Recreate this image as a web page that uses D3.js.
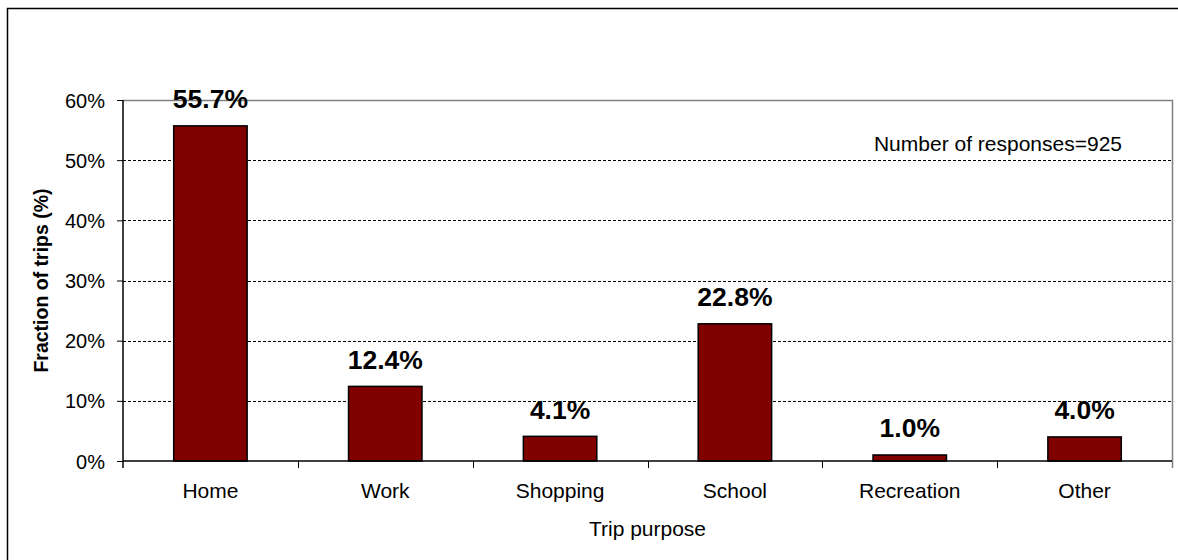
<!DOCTYPE html>
<html>
<head>
<meta charset="utf-8">
<script src="https://cdn.jsdelivr.net/npm/d3@7"></script>
<style>
  html, body { margin: 0; padding: 0; background: #fff; }
  svg { display: block; font-family: Arial, "Liberation Sans", sans-serif; }
</style>
</head>
<body>
<svg id="chart" width="1178" height="560"></svg>
<script>
// Trip purpose shares (percent of trips)
const categories = ["Home", "Work", "Shopping", "School", "Recreation", "Other"];
const shares = [55.7, 12.4, 4.1, 22.8, 1.0, 4.0];
const yTicks = [0, 10, 20, 30, 40, 50, 60];
const noteText = "Number of responses=925";

const svg = d3.select("#chart");
const W = 1178, H = 560;
const plot = { left: 123, right: 1172, top: 100, bottom: 461 };

// Outer frame (runs off the right and bottom edges)
svg.append("rect")
  .attr("x", 7.5).attr("y", 8.5)
  .attr("width", W + 10).attr("height", H + 10)
  .attr("fill", "#fff").attr("stroke", "#000").attr("stroke-width", 1.5);

const x = d3.scaleBand().domain(categories).range([plot.left, plot.right]).paddingInner(0).paddingOuter(0);
const y = d3.scaleLinear().domain([0, 60]).range([plot.bottom, plot.top]);

const barW = x.bandwidth() * 0.42;

// Dashed gridlines
svg.append("g").selectAll("line")
  .data(yTicks.filter(t => t > 0 && t < 60))
  .join("line")
  .attr("x1", plot.left).attr("x2", plot.right)
  .attr("y1", d => Math.round(y(d)) + 0.5).attr("y2", d => Math.round(y(d)) + 0.5)
  .attr("stroke", "#000").attr("stroke-width", 1)
  .attr("stroke-dasharray", "3,2");

// Top and right plot border (grey)
svg.append("path")
  .attr("d", `M${plot.left},${plot.top + 0.5}H${plot.right + 0.5}V${plot.bottom + 7}`)
  .attr("fill", "none").attr("stroke", "#808080").attr("stroke-width", 1.5);

// Bars
svg.append("g").selectAll("rect")
  .data(categories)
  .join("rect")
  .attr("x", d => x(d) + x.bandwidth() / 2 - barW / 2)
  .attr("y", (d, i) => y(shares[i]))
  .attr("width", barW)
  .attr("height", (d, i) => y(0) - y(shares[i]))
  .attr("fill", "#800000")
  .attr("stroke", "#000").attr("stroke-width", 1.5);

// Value labels
svg.append("g").selectAll("text")
  .data(categories)
  .join("text")
  .attr("x", d => x(d) + x.bandwidth() / 2)
  .attr("y", (d, i) => y(shares[i]) - 17.5)
  .attr("text-anchor", "middle")
  .attr("font-size", 26.5).attr("font-weight", "bold").attr("fill", "#000")
  .text((d, i) => shares[i].toFixed(1) + "%");

// Y axis
const yAxis = d3.axisLeft(y).tickValues(yTicks).tickSize(6).tickPadding(12)
  .tickFormat(d => d + "%");
const gy = svg.append("g").attr("transform", `translate(${plot.left},0)`).call(yAxis);
gy.select(".domain").attr("stroke", "#000").attr("stroke-width", 1.5)
  .attr("d", `M0,${plot.top}V${plot.bottom + 7}`);
gy.selectAll(".tick line").attr("stroke", "#000").attr("stroke-width", 1);
gy.selectAll(".tick text").attr("font-size", 20).attr("font-family", null).attr("fill", "#000")
  .attr("dy", "0.35em");

// X axis: ticks at category boundaries
const gx = svg.append("g").attr("transform", `translate(0,${plot.bottom})`);
gx.append("line")
  .attr("x1", plot.left).attr("x2", plot.right)
  .attr("y1", 0).attr("y2", 0)
  .attr("stroke", "#000").attr("stroke-width", 1.5);
gx.selectAll("line.tk")
  .data(categories.slice(1))
  .join("line").attr("class", "tk")
  .attr("x1", d => Math.round(x(d)) + 0.5).attr("x2", d => Math.round(x(d)) + 0.5)
  .attr("y1", 0).attr("y2", 7)
  .attr("stroke", "#000").attr("stroke-width", 1);
gx.selectAll("text")
  .data(categories)
  .join("text")
  .attr("x", d => x(d) + x.bandwidth() / 2)
  .attr("y", 37)
  .attr("text-anchor", "middle")
  .attr("font-size", 21).attr("fill", "#000")
  .text(d => d);

// Axis titles
svg.append("text")
  .attr("x", (plot.left + plot.right) / 2).attr("y", 536)
  .attr("text-anchor", "middle").attr("font-size", 21).attr("fill", "#000")
  .text("Trip purpose");

svg.append("text")
  .attr("transform", `translate(48,${(plot.top + plot.bottom) / 2}) rotate(-90)`)
  .attr("text-anchor", "middle").attr("font-size", 19.5).attr("font-weight", "bold").attr("fill", "#000")
  .text("Fraction of trips (%)");

// Sample size note
svg.append("text")
  .attr("x", 1122).attr("y", 150.5)
  .attr("text-anchor", "end").attr("font-size", 21).attr("fill", "#000")
  .text(noteText);
</script>
</body>
</html>
